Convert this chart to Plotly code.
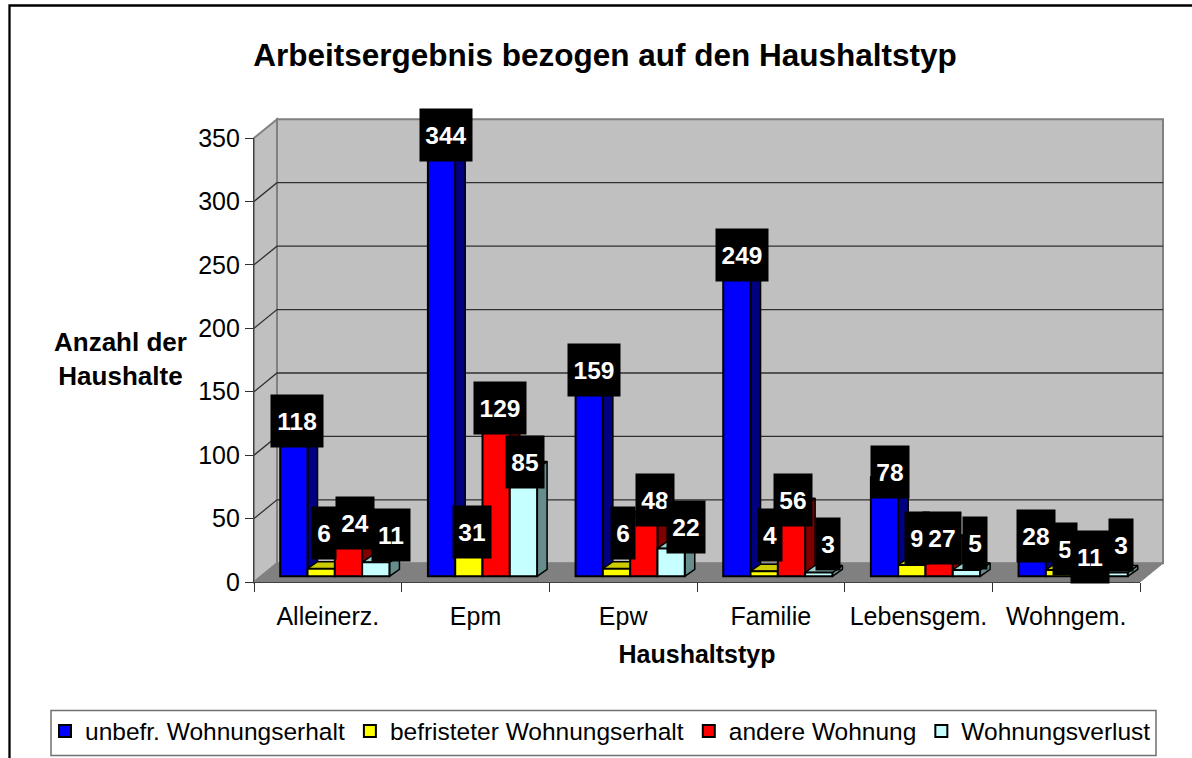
import plotly.graph_objects as go

TITLE = "Arbeitsergebnis bezogen auf den Haushaltstyp"
categories = ["Alleinerz.", "Epm", "Epw", "Familie", "Lebensgem.", "Wohngem."]
unbefristet = [118, 344, 159, 249, 78, 28]
befristet = [6, 31, 6, 4, 9, 5]
andere = [24, 129, 48, 56, 27, 11]
verlust = [11, 85, 22, 3, 5, 3]
series_names = ["unbefr. Wohnungserhalt", "befristeter Wohnungserhalt", "andere Wohnung", "Wohnungsverlust"]
y_ticks = [0, 50, 100, 150, 200, 250, 300, 350]

# style
front = ["#0000FF", "#FFFF00", "#FF0000", "#C6FFFF"]
side = ["#000080", "#808000", "#800000", "#678C8C"]
top = ["#0000CC", "#CCCC00", "#CC0000", "#9FCFCF"]
label_dx = [[3, 3, 7, 15], [4, 3, 4, 2], [5, 6, 11, 15], [5, 6, 2, 9], [5, 5, 3, 9], [4, 5, 3, 7]]
label_dy = [[6, 36, 23, 27], [5, 5, 5, 6], [5, 36, 15, 21], [5, 36, 5, 28], [5, 27, 4, 27], [5, 21, 5, 27]]

W, H = 1192, 758
L, R, T, B = 254, 1140, 138.3, 581.7
PX_X = (R - L) / 6
PX_Y = (B - T) / 350
BAR_W = 27.3 / PX_X
SHIFT = 7 / PX_X
BASE = 5.7 / PX_Y
DX, DY = 10 / PX_X, 7 / PX_Y
BACK_X, BACK_Y = 23, 18.7


def px(x):
    return (x - L) / (R - L)


def py(y):
    return (B - y) / (B - T)


fig = go.Figure()
all_series = [unbefristet, befristet, andere, verlust]
n = len(all_series)
xpos = list(range(len(categories)))

for s, vals in enumerate(all_series):
    off = (s - n / 2) * BAR_W + SHIFT
    sx, sy, tx, ty = [], [], [], []
    for i, v in enumerate(vals):
        xl, xr = i + off, i + off + BAR_W
        t = v + BASE
        sx += [xr, xr + DX, xr + DX, xr, xr, None]
        sy += [BASE, BASE + DY, t + DY, t, BASE, None]
        tx += [xl, xl + DX, xr + DX, xr, xl, None]
        ty += [t, t + DY, t + DY, t, t, None]
    fig.add_trace(go.Scatter(x=sx, y=sy, mode="lines", fill="toself", fillcolor=side[s],
                             line=dict(color="black", width=1.5), showlegend=False, hoverinfo="skip"))
    fig.add_trace(go.Scatter(x=tx, y=ty, mode="lines", fill="toself", fillcolor=top[s],
                             line=dict(color="black", width=1.5), showlegend=False, hoverinfo="skip"))

for s, vals in enumerate(all_series):
    off = (s - n / 2) * BAR_W + SHIFT
    fig.add_trace(go.Bar(x=xpos, y=vals, base=BASE, name=series_names[s], width=BAR_W, offset=off,
                         marker=dict(color=front[s], line=dict(color="black", width=2)),
                         yaxis="y2"))

shapes = []
wall_line = dict(color="#808080", width=2)
RB = R + BACK_X
# side wall
shapes.append(dict(type="path", xref="paper", yref="paper", layer="below",
                   path=f"M{px(L)},{py(T)} L{px(L+BACK_X)},{py(T-BACK_Y)} L{px(L+BACK_X)},{py(B-BACK_Y)} L{px(L)},{py(B)} Z",
                   fillcolor="#C0C0C0", line=wall_line))
# back wall
shapes.append(dict(type="rect", xref="paper", yref="paper", layer="below",
                   x0=px(L+BACK_X), x1=px(RB), y0=py(B-BACK_Y), y1=py(T-BACK_Y),
                   fillcolor="#C0C0C0", line=wall_line))
# floor
shapes.append(dict(type="path", xref="paper", yref="paper", layer="below",
                   path=f"M{px(L)},{py(B)} L{px(L+BACK_X)},{py(B-BACK_Y)} L{px(RB)},{py(B-BACK_Y)} L{px(R)},{py(B)} Z",
                   fillcolor="#808080", line=dict(color="#808080", width=1)))
# gridlines on walls
for v in y_ticks[1:-1]:
    yy = B - v * PX_Y
    shapes.append(dict(type="path", xref="paper", yref="paper", layer="below",
                       path=f"M{px(L)},{py(yy)} L{px(L+BACK_X)},{py(yy-BACK_Y)} L{px(RB)},{py(yy-BACK_Y)}",
                       line=dict(color="#303030", width=1.3)))
# outer chart frame (open at right and bottom of the crop)
shapes.append(dict(type="path", xref="paper", yref="paper", layer="below",
                   path=f"M{px(9.5)},{py(760)} L{px(9.5)},{py(6)} L{px(1194)},{py(6)}",
                   line=dict(color="black", width=2.3)))
# legend frame
shapes.append(dict(type="rect", xref="paper", yref="paper", layer="below",
                   x0=px(51), x1=px(1156), y0=py(710), y1=py(755),
                   fillcolor="white", line=dict(color="#707070", width=1.5)))

annotations = []
for s, vals in enumerate(all_series):
    off = (s - n / 2) * BAR_W + SHIFT
    for i, v in enumerate(vals):
        w = 14 * len(str(v)) + 8
        annotations.append(dict(x=i + off + BAR_W / 2, y=v + BASE, xref="x", yref="y",
                                xshift=label_dx[i][s], yshift=label_dy[i][s], text=f"<b>{v}</b>",
                                showarrow=False, bgcolor="black", width=w, height=50, align="center",
                                valign="middle", borderpad=1,
                                font=dict(family="Liberation Sans", size=24.5, color="white")))
annotations.append(dict(x=px(120), y=py(359), xref="paper", yref="paper", xanchor="center", yanchor="middle",
                        text="<b>Anzahl der<br>Haushalte</b>", showarrow=False, align="center",
                        font=dict(family="Liberation Sans", size=26, color="black")))

fig.update_layout(
    width=W, height=H,
    margin=dict(l=L, r=W - R, t=T, b=H - B, autoexpand=False),
    paper_bgcolor="white", plot_bgcolor="rgba(0,0,0,0)",
    barmode="overlay",
    font=dict(family="Liberation Sans", color="black"),
    title=dict(text=f"<b>{TITLE}</b>", x=605 / W, xanchor="center", y=1 - 55 / H, yanchor="middle",
               font=dict(family="Liberation Sans", size=31.5, color="black")),
    xaxis=dict(range=[-0.5, 5.5], tickmode="array", tickvals=xpos, ticktext=categories,
               ticks="outside", ticklen=12, tickcolor="rgba(0,0,0,0)", showgrid=False, zeroline=False,
               showline=True, linecolor="#404040", linewidth=1.3,
               tickfont=dict(size=25, family="Liberation Sans"),
               minor=dict(tickmode="array", tickvals=[i - 0.5 for i in range(7)], ticks="outside",
                          ticklen=9, tickcolor="#303030", tickwidth=1.3, showgrid=False),
               title=dict(text="<b>Haushaltstyp</b>", standoff=16,
                          font=dict(size=25, family="Liberation Sans"))),
    yaxis=dict(range=[0, 350], tickmode="array", tickvals=y_ticks, ticks="outside", ticklen=8,
               tickcolor="#303030", tickwidth=1.3, showgrid=False, zeroline=False,
               showline=True, linecolor="#404040", linewidth=1.3,
               tickfont=dict(size=25, family="Liberation Sans")),
    yaxis2=dict(range=[0, 350], overlaying="y", visible=False),
    legend=dict(orientation="h", x=px(45), y=py(708), xanchor="left", yanchor="top",
                bgcolor="rgba(0,0,0,0)", borderwidth=0,
                font=dict(size=24.5, family="Liberation Sans"), itemwidth=30,
                traceorder="normal"),
    shapes=shapes, annotations=annotations,
)

fig.write_html("out.html", config={"displayModeBar": False},
               post_script="document.body.style.margin='0';document.body.style.overflow='hidden';")
